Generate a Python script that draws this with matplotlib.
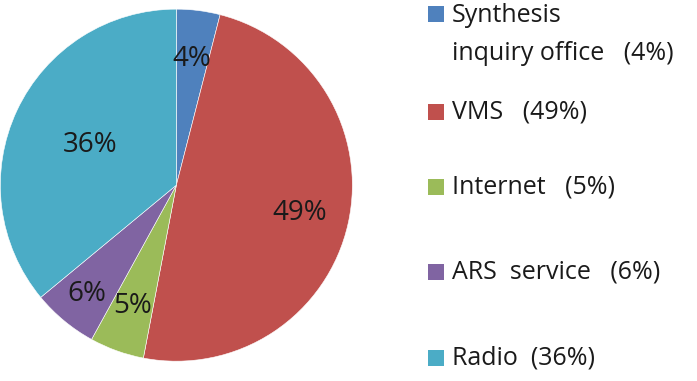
import numpy as np
import matplotlib.pyplot as plt
from matplotlib.patches import Rectangle

plt.rcParams['font.family'] = ['Open Sans', 'DejaVu Sans']

# Data
categories = ['Synthesis\ninquiry office', 'VMS', 'Internet', 'ARS service', 'Radio']
shares = [4, 49, 5, 6, 36]
colors = ['#4F81BD', '#C0504D', '#9BBB59', '#8064A2', '#4BACC6']
legend_labels = ['Synthesis\ninquiry office   (4%)', 'VMS   (49%)', 'Internet   (5%)',
                 'ARS  service   (6%)', 'Radio  (36%)']

fig = plt.figure(figsize=(6.97, 3.81), dpi=100)
ax = fig.add_axes([0.0, 0.052, 0.506, 0.924])

wedges, texts, autotexts = ax.pie(
    shares, colors=colors, startangle=90, counterclock=False,
    autopct='%d%%', pctdistance=0.72, radius=1.0,
    wedgeprops=dict(edgecolor='white', linewidth=0.4),
    textprops=dict(fontsize=20, color='#1a1a1a'))

# label distances differ per slice in the original
label_dist = [0.72, 0.72, 0.73, 0.80, 0.54]
for w, t, d in zip(wedges, autotexts, label_dist):
    ang = np.deg2rad((w.theta1 + w.theta2) / 2)
    t.set_position((d * np.cos(ang), d * np.sin(ang)))

ax.set_xlim(-1, 1)
ax.set_ylim(-1, 1)
ax.set_aspect('equal')
ax.axis('off')

# manual legend on the right
W, H = 697, 381
row_y = [14, 112, 187, 272, 358]  # centre of first text line, px from top
for lab, col, y in zip(legend_labels, colors, row_y):
    fig.patches.append(Rectangle((428 / W, 1 - (y + 8) / H), 16 / W, 16 / H,
                                 transform=fig.transFigure, facecolor=col,
                                 edgecolor='none'))
    multi = '\n' in lab
    fig.text(452 / W, 1 - (y - 11 if multi else y) / H, lab, fontsize=18,
             color='#1a1a1a', ha='left', linespacing=1.7,
             va='top' if multi else 'center')

fig.savefig('out.png', dpi=100, facecolor='white')
